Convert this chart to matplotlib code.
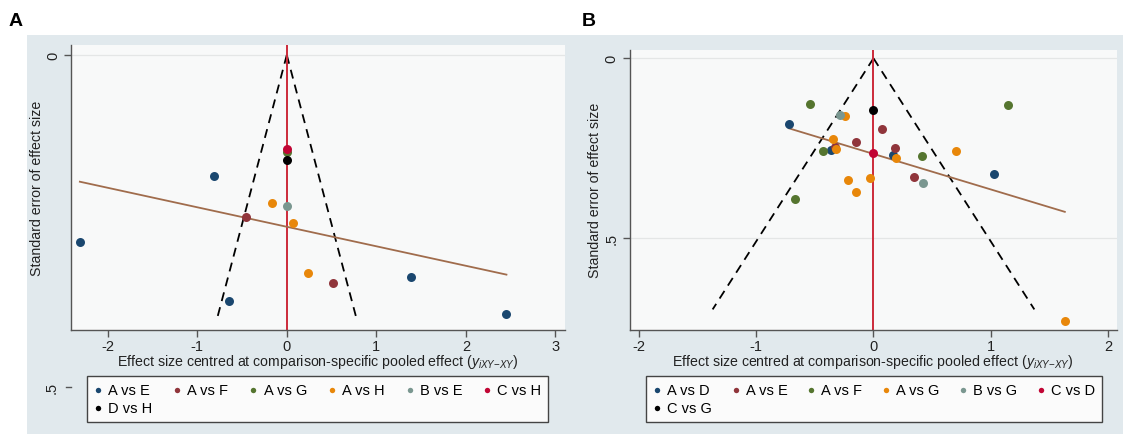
import matplotlib
matplotlib.use("Agg")
import matplotlib.pyplot as plt
from matplotlib.patches import Rectangle
import numpy as np

plt.rcParams['font.family'] = ['Liberation Sans', 'DejaVu Sans']
plt.rcParams['mathtext.fontset'] = 'custom'
plt.rcParams['mathtext.it'] = 'Liberation Sans:italic'
plt.rcParams['mathtext.rm'] = 'Liberation Sans'

# stata-ish colours for the comparisons
navy = '#1a476f'
maroon = '#90353b'
green = '#55752f'
orange = '#e8870a'
teal = '#7a9790'
cranberry = '#c10534'
black = '#000000'

# ---- panel A data (effect centred, standard error) ----
a_labels = ['A vs E', 'A vs F', 'A vs G', 'A vs H', 'B vs E', 'C vs H', 'D vs H']
a_colors = [navy, maroon, green, orange, teal, cranberry, black]
a_x = [
    [-0.816, -2.311, -0.642, 1.389, 2.453],   # A vs E
    [-0.459, 0.516],                          # A vs F
    [0.0],                                    # A vs G
    [-0.167, 0.065, 0.232],                   # A vs H
    [0.0],                                    # B vs E
    [0.0],                                    # C vs H
    [0.0],                                    # D vs H
]
a_se = [
    [0.183, 0.282, 0.370, 0.335, 0.390],
    [0.244, 0.343],
    [0.146],
    [0.223, 0.253, 0.329],
    [0.227],
    [0.142],
    [0.159],
]
a_fit_x = [-2.311, 2.453]
a_fit_y = [0.191, 0.331]
a_funnel_se = 0.40

# ---- panel B data ----
b_labels = ['A vs D', 'A vs E', 'A vs F', 'A vs G', 'B vs G', 'C vs D', 'C vs G']
b_colors = [navy, maroon, green, orange, teal, cranberry, black]
b_x = [
    [-0.723, -0.365, 0.168, 1.032],
    [0.076, -0.150, 0.181, -0.325, 0.349],
    [-0.545, 1.151, -0.432, 0.413, -0.671],
    [-0.245, -0.346, -0.322, 0.190, 0.705, -0.214, -0.030, -0.150, 1.632],
    [-0.285, 0.423],
    [0.0],
    [0.0],
]
b_se = [
    [0.184, 0.256, 0.270, 0.323],
    [0.198, 0.234, 0.250, 0.246, 0.332],
    [0.128, 0.129, 0.258, 0.273, 0.393],
    [0.161, 0.225, 0.254, 0.277, 0.259, 0.338, 0.334, 0.372, 0.731],
    [0.159, 0.348],
    [0.265],
    [0.144],
]
b_fit_x = [-0.723, 1.632]
b_fit_y = [0.195, 0.428]
b_funnel_se = 0.70

W, H = 1123, 435
fig = plt.figure(figsize=(W / 100, H / 100), dpi=100)

# grey graph region behind both panels
fig.patches.append(Rectangle((27 / W, 0), 1 - 27 / W, 1 - 36 / H,
                             transform=fig.transFigure, facecolor='#e1e9ed',
                             edgecolor='none', zorder=-10))

xlab = r'Effect size centred at comparison-specific pooled effect ($y_{iXY\mathrm{-}XY}$)'
spine_col = '#555555'


def funnel_panel(ax, xs, ses, labels, colors, fit_x, fit_y, fse, xlim, ylim, xticks, yticks):
    ax.set_facecolor('#f8f9f9')
    for t in yticks:
        ax.axhline(t, color='#e4e6e6', lw=0.9, zorder=1)
    se_line = np.array([0, fse])
    ax.plot(-1.96 * se_line, se_line, color='black', lw=1.3, ls=(0, (5, 3.5)), zorder=2)
    ax.plot(1.96 * se_line, se_line, color='black', lw=1.3, ls=(0, (5, 3.5)), zorder=2)
    ax.axvline(0, color='#cc2a3a', lw=1.4, zorder=2)
    ax.plot(fit_x, fit_y, color='#a06c4c', lw=1.3, zorder=3)
    handles = []
    for x, s, lab, c in zip(xs, ses, labels, colors):
        h = ax.scatter(x, s, s=42, color=c, label=lab, zorder=4, linewidths=0)
        handles.append(h)
    ax.set_xlim(*xlim)
    ax.set_ylim(*ylim)
    ax.set_xticks(xticks)
    ax.set_xticklabels([str(t) for t in xticks])
    ax.set_yticks(yticks)
    ax.set_yticklabels(['0' if t == 0 else '.5' for t in yticks], rotation=90, va='center')
    for sp in ['top', 'right']:
        ax.spines[sp].set_visible(False)
    for sp in ['left', 'bottom']:
        ax.spines[sp].set_color(spine_col)
        ax.spines[sp].set_linewidth(1.0)
    ax.tick_params(axis='both', colors=spine_col, labelcolor='#222222', labelsize=10.5,
                   length=5, width=1.0)
    ax.tick_params(axis='y', pad=3)
    ax.tick_params(axis='x', pad=2)
    ax.set_xlabel(xlab, fontsize=10.2, labelpad=-1, color='#222222')
    ax.set_ylabel('Standard error of effect size', fontsize=10.2, color='#222222')
    return handles


wA = 565 - 71
axA = fig.add_axes([71 / W, 1 - 330.7 / H, wA / W, (330.7 - 46) / H])
hA = funnel_panel(axA, a_x, a_se, a_labels, a_colors, a_fit_x, a_fit_y, a_funnel_se,
                  (-2.41, 3.107), (0.414, -0.015), [-2, -1, 0, 1, 2, 3], [0])
axA.yaxis.set_label_coords(-27 / wA, 0.5)
# the .5 tick of panel A falls below the plot region
axA.text(-19 / wA, 0.5, '.5', transform=axA.get_yaxis_transform(), rotation=90,
         ha='center', va='center', fontsize=10.5, color='#222222', clip_on=False)
axA.plot([-5 / wA, 0], [0.5, 0.5], transform=axA.get_yaxis_transform(),
         color=spine_col, lw=1.0, clip_on=False)

wB = 1117 - 629.5
axB = fig.add_axes([629.5 / W, 1 - 330.5 / H, wB / W, (330.5 - 50.7) / H])
hB = funnel_panel(axB, b_x, b_se, b_labels, b_colors, b_fit_x, b_fit_y, b_funnel_se,
                  (-2.081, 2.077), (0.756, -0.024), [-2, -1, 0, 1, 2], [0, 0.5])
axB.yaxis.set_label_coords(-27.5 / wB, 0.5)

# legend fills column-wise, so put the 7th entry second to get row-major order
order = [0, 6, 1, 2, 3, 4, 5]
for handles, labels, x0, x1 in [(hA, a_labels, 87, 548), (hB, b_labels, 646, 1102)]:
    leg = fig.legend([handles[i] for i in order], [labels[i] for i in order],
                     loc='upper left',
                     bbox_to_anchor=(x0 / W, 1 - 377 / H, (x1 - x0) / W, 0.0),
                     mode='expand', ncol=6, fontsize=10.5, markerscale=0.6,
                     handlelength=0.6, handletextpad=0.4, labelspacing=0.3,
                     borderpad=0.45, borderaxespad=0, fancybox=False,
                     frameon=True, edgecolor='#444444', facecolor='#fbfbfb',
                     framealpha=1)
    leg.get_frame().set_linewidth(1.0)

fig.text(16 / W, 1 - 21 / H, 'A', fontsize=14, fontweight='bold', ha='center', va='center')
fig.text(589 / W, 1 - 21 / H, 'B', fontsize=14, fontweight='bold', ha='center', va='center')

fig.savefig('out.png', dpi=100)
